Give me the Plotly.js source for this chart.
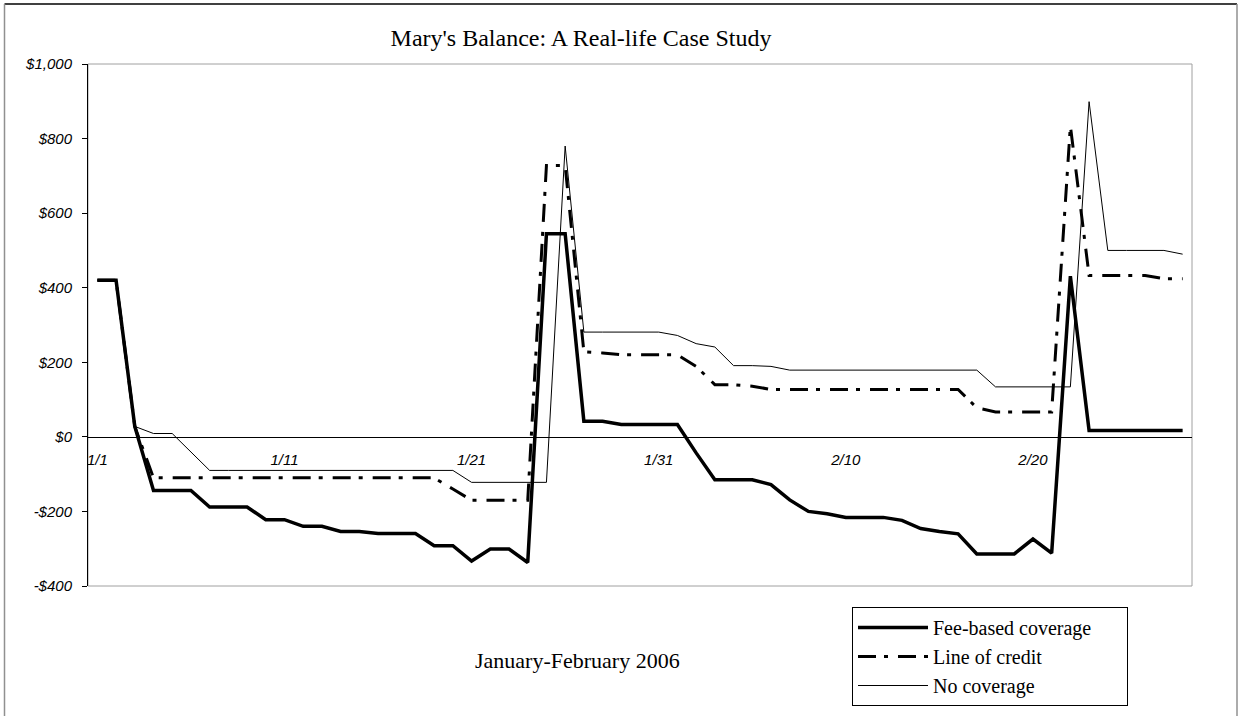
<!DOCTYPE html>
<html>
<head>
<meta charset="utf-8">
<script src="https://cdn.plot.ly/plotly-3.0.1.min.js"></script>
<style>
  html, body { margin: 0; padding: 0; background: #ffffff; }
  #chart { width: 1238px; height: 716px; }
</style>
</head>
<body>
<div id="chart"></div>
<script>
// Days (category axis)
var days = [
  "1/1","1/2","1/3","1/4","1/5","1/6","1/7","1/8","1/9","1/10",
  "1/11","1/12","1/13","1/14","1/15","1/16","1/17","1/18","1/19","1/20",
  "1/21","1/22","1/23","1/24","1/25","1/26","1/27","1/28","1/29","1/30",
  "1/31","2/1","2/2","2/3","2/4","2/5","2/6","2/7","2/8","2/9",
  "2/10","2/11","2/12","2/13","2/14","2/15","2/16","2/17","2/18","2/19",
  "2/20","2/21","2/22","2/23","2/24","2/25","2/26","2/27","2/28"
];

var feeBased = [
  420, 420, 28, -144, -144, -144, -188, -188, -188, -222,
  -222, -240, -240, -254, -254, -259, -259, -259, -292, -292,
  -333, -301, -301, -337, 545, 545, 42, 42, 33, 33,
  33, 33, -43, -115, -115, -115, -128, -169, -200, -206,
  -216, -216, -216, -224, -246, -254, -260, -314, -314, -314,
  -274, -312, 431, 17, 17, 17, 17, 17, 17
];

var lineOfCredit = [
  420, 420, 28, -110, -110, -110, -110, -110, -110, -110,
  -110, -110, -110, -110, -110, -110, -110, -110, -110, -140,
  -170, -170, -170, -170, 728, 728, 228, 225, 220, 220,
  220, 220, 189, 140, 140, 136, 127, 127, 127, 127,
  127, 127, 127, 127, 127, 127, 127, 78, 67, 67,
  67, 67, 834, 433, 433, 433, 433, 424, 424
];

var noCoverage = [
  420, 420, 28, 9, 9, -41, -90, -90, -90, -90,
  -90, -90, -90, -90, -90, -90, -90, -90, -90, -90,
  -122, -122, -122, -122, -122, 780, 281, 281, 281, 281,
  281, 272, 250, 241, 191, 191, 189, 179, 179, 179,
  179, 179, 179, 179, 179, 179, 179, 179, 134, 134,
  134, 134, 134, 899, 500, 500, 500, 500, 490
];

var seriesNames = ["Fee-based coverage", "Line of credit", "No coverage"];
var xTickVals = ["1/1","1/11","1/21","1/31","2/10","2/20"];
var yTickVals = [-400, -200, 0, 200, 400, 600, 800, 1000];
var yTickText = ["-$400", "-$200", "$0", "$200", "$400", "$600", "$800", "$1,000"];

var serif = "Liberation Serif, Times New Roman, serif";
var sans = "Liberation Sans, Arial, sans-serif";
var pad = "\u00a0\u00a0\u00a0\u00a0\u00a0\u00a0"; // right padding inside legend box

var traces = [
  { x: days, y: feeBased, type: "scatter", mode: "lines", name: seriesNames[0] + pad,
    line: { color: "#000000", width: 3.5 } },
  { x: days, y: lineOfCredit, type: "scatter", mode: "lines", name: seriesNames[1],
    line: { color: "#000000", width: 3, dash: "18px,8px,4px,10px" } },
  { x: days, y: noCoverage, type: "scatter", mode: "lines", name: seriesNames[2],
    line: { color: "#000000", width: 1 } }
];

// plot area: x 88..1192, y 64..586
var L = 88, R = 1192, T = 64, B = 586;
function px(x) { return (x - L) / (R - L); }
function py(y) { return (B - y) / (B - T); }

var layout = {
  width: 1238, height: 716,
  margin: { l: L, r: 1238 - R, t: T, b: 716 - B, pad: 0, autoexpand: false },
  paper_bgcolor: "#ffffff", plot_bgcolor: "#ffffff",
  showlegend: true,
  title: { text: "Mary's Balance: A Real-life Case Study",
           font: { family: serif, size: 24, color: "#000000" },
           x: 581 / 1238, xanchor: "center", xref: "container",
           y: 1 - 38 / 716, yanchor: "middle", yref: "container" },
  xaxis: {
    type: "category", range: [-0.5, 58.5],
    anchor: "free", position: 400 / 1400,
    showline: true, linecolor: "#000000", linewidth: 1,
    showgrid: false, zeroline: false, ticks: "",
    tickvals: xTickVals, ticktext: xTickVals,
    tickfont: { family: sans, size: 15, color: "#000000", style: "italic" },
    ticklabelstandoff: 9
  },
  yaxis: {
    range: [-400, 1000],
    tickvals: yTickVals, ticktext: yTickText,
    ticks: "outside", ticklen: 5, tickcolor: "#000000", tickwidth: 1,
    showline: true, linecolor: "#000000", linewidth: 1,
    showgrid: false, zeroline: false,
    tickfont: { family: sans, size: 15, color: "#000000", style: "italic" },
    ticklabelstandoff: 7
  },
  legend: {
    x: px(852), y: py(607), xanchor: "left", yanchor: "top",
    bordercolor: "#000000", borderwidth: 1, bgcolor: "#ffffff",
    font: { family: serif, size: 20, color: "#000000" },
    tracegroupgap: 0, itemwidth: 70
  },
  annotations: [
    { text: "January-February 2006", xref: "paper", yref: "paper",
      x: px(577), y: py(660), xanchor: "center", yanchor: "middle",
      showarrow: false, font: { family: serif, size: 22, color: "#000000" } }
  ],
  shapes: [
    { type: "rect", xref: "paper", yref: "paper", x0: 0, x1: 1, y0: 0, y1: 1,
      line: { color: "#a0a0a0", width: 1 }, layer: "below" },
    { type: "line", xref: "paper", yref: "paper", x0: px(4.5), x1: px(1237), y0: py(4), y1: py(4),
      line: { color: "#000000", width: 1.5 } },
    { type: "line", xref: "paper", yref: "paper", x0: px(4.5), x1: px(4.5), y0: py(4), y1: py(730),
      line: { color: "#909090", width: 1.5 } },
    { type: "line", xref: "paper", yref: "paper", x0: px(1237), x1: px(1237), y0: py(4), y1: py(730),
      line: { color: "#909090", width: 1.5 } }
  ]
};

Plotly.newPlot("chart", traces, layout, { displayModeBar: false, staticPlot: true });
</script>
</body>
</html>
